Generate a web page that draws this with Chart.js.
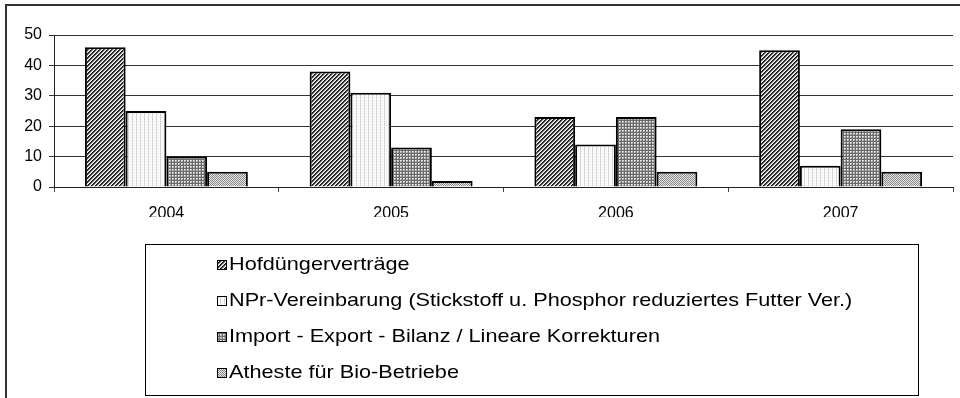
<!DOCTYPE html>
<html>
<head>
<meta charset="utf-8">
<script src="https://cdn.jsdelivr.net/npm/chart.js@4.4.1/dist/chart.umd.min.js"></script>
<style>
  html, body { margin: 0; padding: 0; background: #fff; }
  #wrap { position: relative; width: 960px; height: 398px; }
</style>
</head>
<body>
<div id="wrap"><canvas id="chart" width="960" height="398"></canvas></div>
<script>
const years = ['2004', '2005', '2006', '2007'];
const hofduenger = [46, 38, 23, 45];
const npr = [25, 31, 14, 7];
const importExport = [10, 13, 23, 19];
const atheste = [5, 2, 5, 5];
const seriesNames = [
  'Hofdüngerverträge',
  'NPr-Vereinbarung (Stickstoff u. Phosphor reduziertes Futter Ver.)',
  'Import - Export - Bilanz / Lineare Korrekturen',
  'Atheste für Bio-Betriebe'
];
const yMin = 0, yMax = 50, yStep = 10;

// small tiled fills, like old office hatch patterns
function makePattern(w, h, paint) {
  const c = document.createElement('canvas');
  c.width = w; c.height = h;
  const g = c.getContext('2d');
  paint(g);
  return g.createPattern(c, 'repeat');
}
function px(g, x, y, col) { g.fillStyle = col; g.fillRect(x, y, 1, 1); }

const hatchDiag = makePattern(4, 4, g => {
  g.fillStyle = '#fff'; g.fillRect(0, 0, 4, 4);
  for (let y = 0; y < 4; y++)
    for (let x = 0; x < 4; x++) {
      const k = (x + y) % 4;
      if (k === 0 || k === 1) px(g, x, y, k === 0 ? '#111' : '#444');
      else if (k === 2) px(g, x, y, '#bbb');
    }
});
const hatchVert = makePattern(4, 4, g => {
  g.fillStyle = '#fbfbfb'; g.fillRect(0, 0, 4, 4);
  for (let y = 0; y < 4; y++) px(g, 0, y, y % 2 ? '#c8c8c8' : '#e0e0e0');
  px(g, 2, 1, '#ececec');
});
const hatchGrid = makePattern(3, 3, g => {
  g.fillStyle = '#6a6a6a'; g.fillRect(0, 0, 3, 3);
  px(g, 1, 1, '#f0f0f0'); px(g, 2, 1, '#c8c8c8');
  px(g, 1, 2, '#c8c8c8'); px(g, 2, 2, '#a0a0a0');
});
const hatchDots = makePattern(2, 2, g => {
  g.fillStyle = '#e6e6e6'; g.fillRect(0, 0, 2, 2);
  px(g, 0, 0, '#8a8a8a'); px(g, 1, 1, '#8a8a8a');
});

const fills = [hatchDiag, hatchVert, hatchGrid, hatchDots];
const values = [hofduenger, npr, importExport, atheste];

// outer frame and boxed legend, one entry per row
const frameLegend = {
  id: 'frameLegend',
  afterDraw(chart) {
    const ctx = chart.ctx;
    ctx.save();
    ctx.strokeStyle = '#333';
    ctx.lineWidth = 2;
    ctx.beginPath();
    ctx.moveTo(6, 400);
    ctx.lineTo(6, 5);
    ctx.lineTo(962, 5);
    ctx.stroke();

    ctx.lineWidth = 1;
    ctx.strokeStyle = '#000';
    ctx.strokeRect(145.5, 244.5, 773, 151);

    ctx.font = '19px "Liberation Sans", Arial, sans-serif';
    ctx.textBaseline = 'middle';
    chart.data.datasets.forEach((ds, i) => {
      const cy = 265 + i * 36;
      ctx.fillStyle = ds.backgroundColor;
      ctx.fillRect(217, cy - 5, 10, 10);
      ctx.strokeStyle = '#000';
      ctx.strokeRect(217.5, cy - 4.5, 9, 9);
      // legend text runs a little wide
      ctx.save();
      ctx.translate(229, cy);
      ctx.scale(1.14, 1);
      ctx.fillStyle = '#000';
      ctx.fillText(ds.label, 0, 0);
      ctx.restore();
    });
    ctx.restore();
  }
};

new Chart(document.getElementById('chart'), {
  type: 'bar',
  data: {
    labels: years,
    datasets: seriesNames.map((name, i) => ({
      label: name,
      data: values[i],
      backgroundColor: fills[i],
      borderColor: '#000',
      borderWidth: 2,
      categoryPercentage: 0.725,
      barPercentage: 1
    }))
  },
  options: {
    responsive: false,
    animation: false,
    layout: { padding: { left: 0, right: 7, top: 35, bottom: 181 } },
    plugins: { legend: { display: false }, tooltip: { enabled: false } },
    scales: {
      x: {
        afterFit: s => { s.height = 30; },
        grid: { drawOnChartArea: false, tickLength: 5, color: '#444', offset: true },
        border: { color: '#222', width: 1 },
        ticks: { color: '#000', padding: 12, font: { family: '"Liberation Sans", Arial, sans-serif', size: 16 } }
      },
      y: {
        min: yMin, max: yMax,
        afterFit: s => { s.width = 54; },
        grid: { color: '#333', tickLength: 5 },
        border: { color: '#222', width: 1 },
        ticks: { stepSize: yStep, color: '#000', padding: 7, font: { family: '"Liberation Sans", Arial, sans-serif', size: 16 } }
      }
    }
  },
  plugins: [frameLegend]
});
</script>
</body>
</html>
